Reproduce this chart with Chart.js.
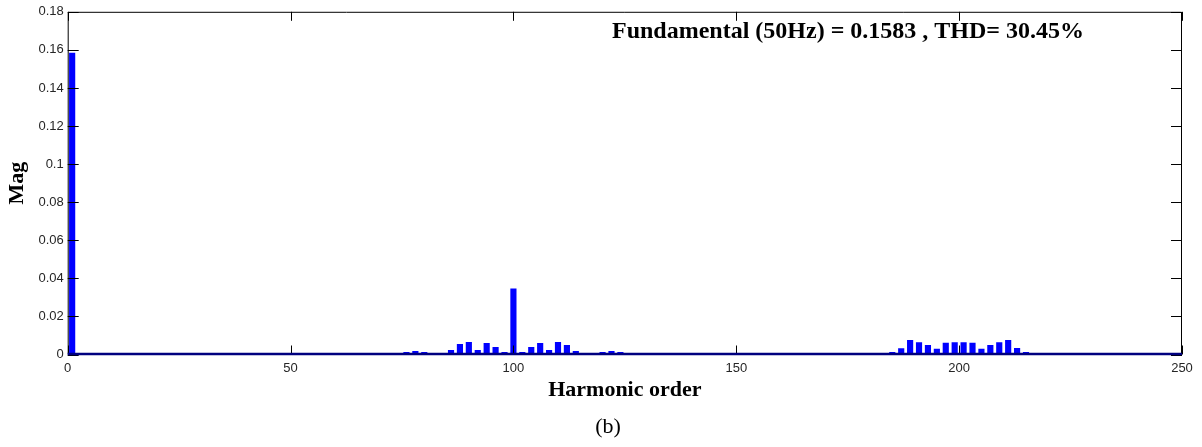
<!DOCTYPE html>
<html>
<head>
<meta charset="utf-8">
<script src="https://cdn.jsdelivr.net/npm/chart.js@4.4.0/dist/chart.umd.min.js"></script>
<style>
  html, body { margin: 0; padding: 0; background: #ffffff; }
  #wrap { width: 1202px; height: 447px; position: relative; }
</style>
</head>
<body>
<div id="wrap"><canvas id="c" width="1202" height="447"></canvas></div>
<script>
// Harmonic orders with visible magnitude and their values
const harmonicOrder = [1,
  76, 78, 80, 86, 88, 90, 92, 94, 96, 98, 100, 102, 104, 106, 108, 110, 112, 114, 120, 122, 124,
  185, 187, 189, 191, 193, 195, 197, 199, 201, 203, 205, 207, 209, 211, 213, 215];
const magnitude = [0.1583,
  0.0012, 0.0017, 0.0012, 0.0022, 0.0054, 0.0064, 0.0022, 0.0059, 0.0038, 0.0012, 0.0345,
  0.0012, 0.0038, 0.0059, 0.0022, 0.0064, 0.0048, 0.0017, 0.0012, 0.0017, 0.0012,
  0.0012, 0.0031, 0.0074, 0.0063, 0.0048, 0.0029, 0.0060, 0.0063, 0.0063, 0.0060,
  0.0029, 0.0048, 0.0063, 0.0074, 0.0032, 0.0012];
const xTicks = [0, 50, 100, 150, 200, 250];
const yTicks = [0, 0.02, 0.04, 0.06, 0.08, 0.1, 0.12, 0.14, 0.16, 0.18];
const annotationText = 'Fundamental (50Hz) = 0.1583 , THD= 30.45%';
const captionText = '(b)';

const points = harmonicOrder.map((h, i) => ({ x: h, y: magnitude[i] }));

const frame = {
  id: 'frame',
  afterDatasetsDraw(chart) {
    const { ctx, chartArea: a, scales } = chart;
    ctx.save();
    ctx.strokeStyle = '#000000';
    ctx.lineWidth = 1;
    ctx.beginPath();
    ctx.moveTo(a.left + 0.5, a.bottom);
    ctx.lineTo(a.left + 0.5, a.top + 0.5);
    ctx.lineTo(a.right - 0.5, a.top + 0.5);
    ctx.lineTo(a.right - 0.5, a.bottom);
    xTicks.forEach(v => {
      const px = Math.round(scales.x.getPixelForValue(v)) + 0.5;
      ctx.moveTo(px, a.bottom); ctx.lineTo(px, a.bottom - 9);
      ctx.moveTo(px, a.top); ctx.lineTo(px, a.top + 9);
    });
    yTicks.forEach(v => {
      const py = Math.round(scales.y.getPixelForValue(v)) + 0.5;
      ctx.moveTo(a.left, py); ctx.lineTo(a.left + 11, py);
      ctx.moveTo(a.right, py); ctx.lineTo(a.right - 11, py);
    });
    ctx.stroke();
    ctx.strokeStyle = '#00007f';
    ctx.lineWidth = 2.5;
    ctx.beginPath();
    ctx.moveTo(a.left, a.bottom - 0.5);
    ctx.lineTo(a.right, a.bottom - 0.5);
    ctx.stroke();
    ctx.fillStyle = '#000000';
    ctx.font = 'bold 24px "Liberation Serif", "Times New Roman", serif';
    ctx.textBaseline = 'middle';
    ctx.textAlign = 'left';
    ctx.fillText(annotationText, 612, 32);
    ctx.font = '22px "Liberation Serif", "Times New Roman", serif';
    ctx.textAlign = 'center';
    ctx.fillText(captionText, 608, 427);
    ctx.restore();
  }
};

new Chart(document.getElementById('c'), {
  type: 'bar',
  data: {
    datasets: [{
      data: points,
      backgroundColor: '#0000ff',
      borderWidth: 0,
      barThickness: 5.5
    }]
  },
  options: {
    responsive: false,
    animation: false,
    events: [],
    layout: { padding: { top: 8, right: 20, bottom: 0, left: 0 } },
    plugins: { legend: { display: false }, tooltip: { enabled: false } },
    scales: {
      x: {
        type: 'linear',
        offset: false,
        min: 0, max: 250,
        afterBuildTicks(s) { s.ticks = xTicks.map(v => ({ value: v })); },
        afterFit(s) { s.height = 92.5; },
        grid: { display: false, drawTicks: false, offset: false },
        border: { display: false },
        ticks: {
          padding: 6,
          color: '#262626',
          font: { family: '"Liberation Sans", Arial, sans-serif', size: 13 },
          maxRotation: 0
        },
        title: {
          display: true,
          text: 'Harmonic order',
          color: '#000000',
          font: { family: '"Liberation Serif", "Times New Roman", serif', size: 22, weight: 'bold' },
          padding: { top: 0, bottom: 43 }
        }
      },
      y: {
        min: 0, max: 0.18,
        afterBuildTicks(s) { s.ticks = yTicks.map(v => ({ value: v })); },
        afterFit(s) { s.width = 67.7; },
        grid: { display: false, drawTicks: false },
        border: { display: false },
        ticks: {
          padding: 4,
          color: '#262626',
          font: { family: '"Liberation Sans", Arial, sans-serif', size: 13 },
          callback: v => String(Math.round(v * 100) / 100)
        },
        title: {
          display: true,
          text: 'Mag',
          color: '#000000',
          font: { family: '"Liberation Serif", "Times New Roman", serif', size: 22, weight: 'bold' },
          padding: { top: 4, bottom: 0 }
        }
      }
    }
  },
  plugins: [frame]
});
</script>
</body>
</html>
